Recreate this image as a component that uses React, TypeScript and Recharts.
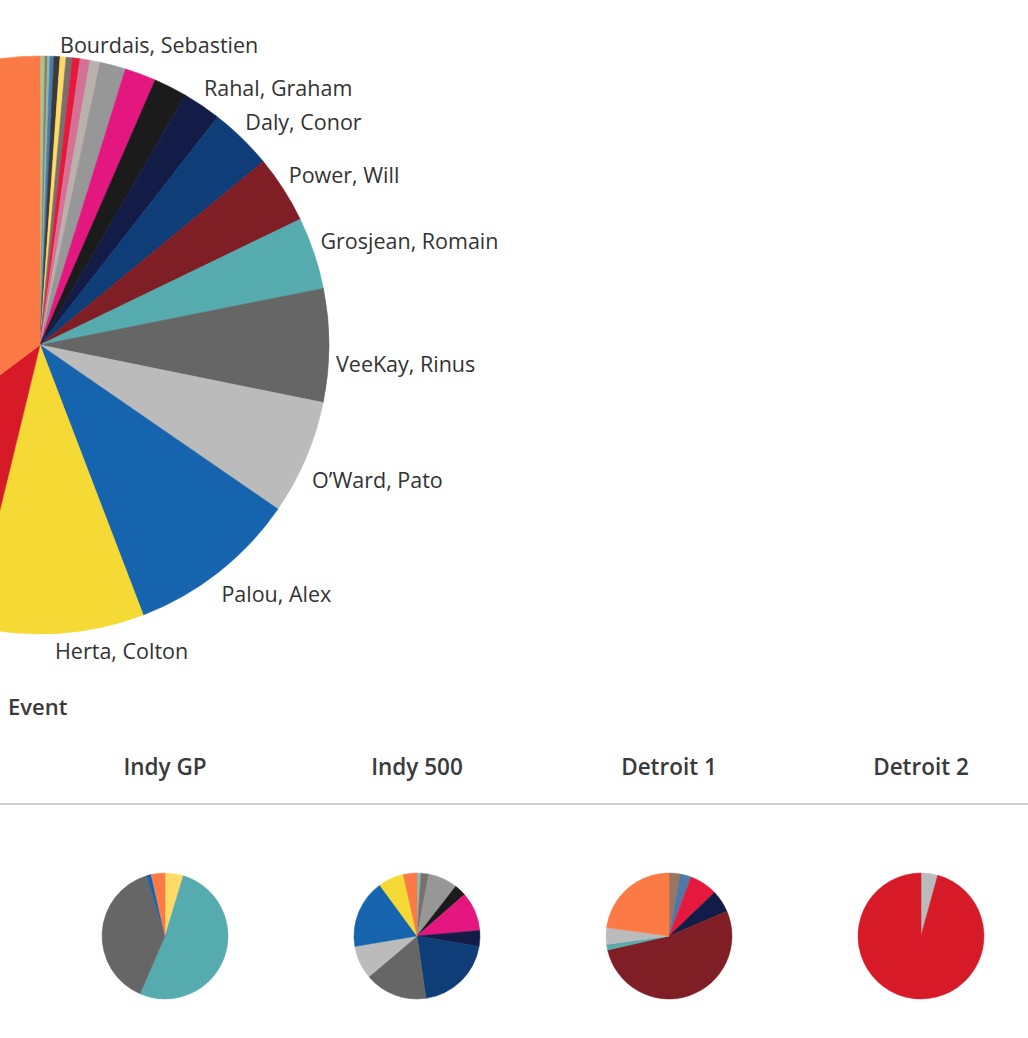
import React from 'react';
import { PieChart, Pie, Cell } from 'recharts';

const FONT = '"Open Sans", "Noto Sans", sans-serif';
const TEXT = '#333333';
const NO_MARGIN = { top: 0, right: 0, bottom: 0, left: 0 };

// Season total: share of laps led (%), clockwise from 12 o'clock
const seasonDrivers = [
  'Andretti, Marco', 'Rossi, Alexander', 'Hunter-Reay, Ryan', 'Kanaan, Tony', 'Harvey, Jack',
  'Pagenaud, Simon', 'Bourdais, Sebastien', 'Carpenter, Ed', 'Rosenqvist, Felix', 'Ferrucci, Santino',
  'Sato, Takuma', 'Karam, Sage', 'Castroneves, Helio', 'Ericsson, Marcus', 'Rahal, Graham',
  'Daly, Conor', 'Power, Will', 'Grosjean, Romain', 'VeeKay, Rinus', 'O’Ward, Pato',
  'Palou, Alex', 'Herta, Colton', 'Newgarden, Josef', 'Dixon, Scott',
];
const seasonShare = [
  0.14, 0.14, 0.14, 0.14, 0.22,
  0.33, 0.33, 0.36, 0.42, 0.56,
  0.56, 1.44, 1.75, 1.86, 2.14,
  3.53, 3.78, 4.03, 6.33, 6.42,
  9.58, 9.61, 10.97, 35.25,
];
const seasonColors = [
  '#C4B5A5', '#8CD17D', '#9C755F', '#86BCB6', '#4E79A7',
  '#3A3A3A', '#FFDA66', '#79706E', '#E6193C', '#D37295',
  '#BAB0AC', '#979797', '#E3177F', '#1B1B1B', '#131C47',
  '#0F3D77', '#7F1F25', '#56ABAE', '#666666', '#BBBBBB',
  '#1764AE', '#F5D935', '#D71A28', '#FC7A45',
];
const labelledDrivers = [
  'Bourdais, Sebastien', 'Rahal, Graham', 'Daly, Conor', 'Power, Will', 'Grosjean, Romain',
  'VeeKay, Rinus', 'O’Ward, Pato', 'Palou, Alex', 'Herta, Colton',
];

// Per-event laps led, clockwise from 12 o'clock
const events = ['Indy GP', 'Indy 500', 'Detroit 1', 'Detroit 2'];
const indyGpDrivers = ['Bourdais, Sebastien', 'Grosjean, Romain', 'VeeKay, Rinus', 'Palou, Alex', 'Dixon, Scott'];
const indyGpLaps = [4, 44, 33, 1, 3];
const indy500Drivers = [
  'Kanaan, Tony', 'Carpenter, Ed', 'Karam, Sage', 'Ericsson, Marcus', 'Castroneves, Helio', 'Rahal, Graham',
  'Daly, Conor', 'VeeKay, Rinus', 'O’Ward, Pato', 'Palou, Alex', 'Herta, Colton', 'Dixon, Scott',
];
const indy500Laps = [2, 4, 15, 6, 20, 8, 40, 32, 17, 35, 13, 7];
const detroit1Drivers = [
  'Hunter-Reay, Ryan', 'Harvey, Jack', 'Rosenqvist, Felix', 'Rahal, Graham',
  'Power, Will', 'Grosjean, Romain', 'O’Ward, Pato', 'Dixon, Scott',
];
const detroit1Laps = [2, 2, 5, 4, 37, 1, 3, 16];
const detroit2Drivers = ['O’Ward, Pato', 'Newgarden, Josef'];
const detroit2Laps = [3, 67];

const eventDrivers = [indyGpDrivers, indy500Drivers, detroit1Drivers, detroit2Drivers];
const eventLaps = [indyGpLaps, indy500Laps, detroit1Laps, detroit2Laps];

const colorOf = (d: string) => seasonColors[seasonDrivers.indexOf(d)] || '#999999';

const seasonData = seasonDrivers.map((driver, i) => ({ driver, value: seasonShare[i] }));

const RAD = Math.PI / 180;

function SeasonLabel(props: any) {
  const { cx, cy, midAngle, outerRadius } = props;
  const driver = (props.payload && props.payload.driver) || props.name;
  if (!labelledDrivers.includes(driver)) return null;
  const r = outerRadius + 11;
  const hx = Math.cos(-midAngle * RAD);
  const x = cx + r * hx - 4;
  const ay = cy + r * Math.sin(-midAngle * RAD);
  const upper = ay < cy - 5;
  const y = Math.max(upper ? ay - 9 : ay + 5 + 13 * Math.abs(hx), 44);
  return (
    <text x={x} y={y} textAnchor="start" dominantBaseline="central"
      fontFamily={FONT} fontSize={21.5} fill={TEXT}>
      {driver}
    </text>
  );
}

const COL_START = 39;
const COL_W = 252;

export default function App() {
  return (
    <div style={{ position: 'absolute', left: 0, top: 0, width: 1028, height: 1038, overflow: 'hidden', background: '#fff' }}>
      <div style={{ position: 'absolute', left: 0, top: 0 }}>
        <PieChart width={700} height={690} margin={NO_MARGIN}>
          <Pie data={seasonData} dataKey="value" nameKey="driver" cx={40} cy={345}
            outerRadius={289} innerRadius={0} startAngle={90} endAngle={-270}
            isAnimationActive={false} label={SeasonLabel} labelLine={false}>
            {seasonData.map((d) => (
              <Cell key={d.driver} fill={colorOf(d.driver)} stroke={colorOf(d.driver)} strokeWidth={0.6} />
            ))}
          </Pie>
        </PieChart>
      </div>

      <svg width={1028} height={1038} style={{ position: 'absolute', left: 0, top: 0, pointerEvents: 'none' }}>
        <text x={8} y={706} dominantBaseline="central" fontFamily={FONT} fontSize={22} fontWeight={600} fill="#3a3a3a">Event</text>
        {events.map((e, i) => (
          <text key={e} x={COL_START + COL_W * i + COL_W / 2} y={766} textAnchor="middle" dominantBaseline="central"
            fontFamily={FONT} fontSize={22.5} fontWeight={600} fill="#3a3a3a">{e}</text>
        ))}
        <line x1={0} x2={1028} y1={804} y2={804} stroke="#D0D0D0" strokeWidth={2} />
      </svg>

      {events.map((e, i) => {
        const data = eventDrivers[i].map((driver, k) => ({ driver, laps: eventLaps[i][k] }));
        return (
          <div key={e} style={{ position: 'absolute', left: COL_START + COL_W * i, top: 836 }}>
            <PieChart width={COL_W} height={200} margin={NO_MARGIN}>
              <Pie data={data} dataKey="laps" nameKey="driver" cx={COL_W / 2} cy={100}
                outerRadius={63} innerRadius={0} startAngle={90} endAngle={-270}
                isAnimationActive={false} label={false} labelLine={false}>
                {data.map((d) => (
                  <Cell key={d.driver} fill={colorOf(d.driver)} stroke={colorOf(d.driver)} strokeWidth={0.5} />
                ))}
              </Pie>
            </PieChart>
          </div>
        );
      })}
    </div>
  );
}
